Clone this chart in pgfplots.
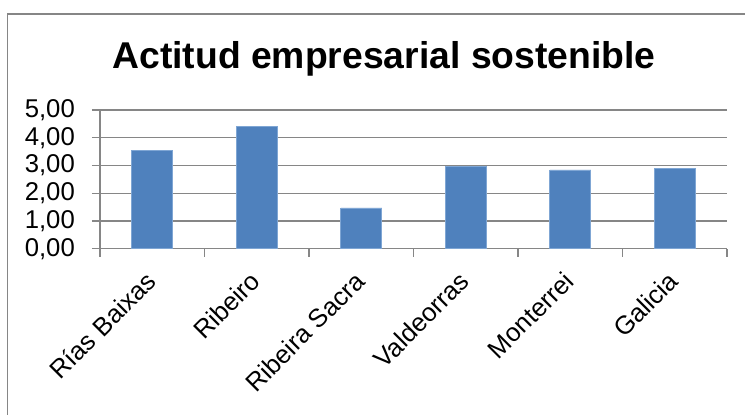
\documentclass[border=0pt]{standalone}
\usepackage{fontspec}
\setmainfont{Liberation Sans}
\usepackage{pgfplots}
\pgfplotsset{compat=1.18}
\definecolor{barblue}{HTML}{4F81BD}
\definecolor{baredge}{HTML}{7FA6D4}
\definecolor{gridgray}{HTML}{868686}
\begin{document}
\begin{tikzpicture}
\useasboundingbox (0pt,0pt) rectangle (745pt,415pt);
\draw[gridgray, line width=1.3pt] (7.3pt,-2pt) -- (7.3pt,401pt) -- (747pt,401pt);
\node[anchor=base, inner sep=0pt, font=\fontsize{37.3}{44}\selectfont\bfseries] at (384pt,346.7pt) {Actitud empresarial sostenible};
\begin{axis}[
  at={(100pt,166.3pt)}, anchor=south west,
  scale only axis, width=627pt, height=138.6pt,
  xmin=0.5, xmax=6.5, ymin=0, ymax=5,
  xtick={1,2,3,4,5,6},
  xticklabels={Rías Baixas, Ribeiro, Ribeira Sacra, Valdeorras, Monterrei, Galicia},
  minor xtick={0.5,1.5,2.5,3.5,4.5,5.5,6.5},
  ytick={0,1,2,3,4,5},
  minor ytick={0,1,2,3,4,5},
  major tick length=0pt,
  minor tick length=8pt,
  tick align=outside,
  tick style={gridgray, line width=1.3pt},
  ymajorgrids=true,
  major grid style={gridgray, line width=1.3pt},
  axis x line*=bottom, axis y line*=left,
  axis line style={gridgray, line width=1.3pt, -},
  every outer x axis line/.append style={-},
  every outer y axis line/.append style={-},
  /pgf/number format/assume math mode=true,
  yticklabel={\pgfmathprintnumber[fixed, fixed zerofill, precision=2, use comma]{\tick}},
  yticklabel style={font=\fontsize{25.7}{30}\selectfont, anchor=east, inner sep=0pt, xshift=-25pt},
  xticklabel style={font=\fontsize{25.7}{30}\selectfont, rotate=45, anchor=north east, inner sep=0pt, xshift=-20.6pt, yshift=-9.3pt},
  ybar, bar width=41pt,
  clip=false,
]
\addplot[fill=barblue, draw=baredge, line width=0.8pt] coordinates {(1,3.55) (2,4.41) (3,1.47) (4,2.98) (5,2.84) (6,2.90)};
\end{axis}
\end{tikzpicture}
\end{document}
